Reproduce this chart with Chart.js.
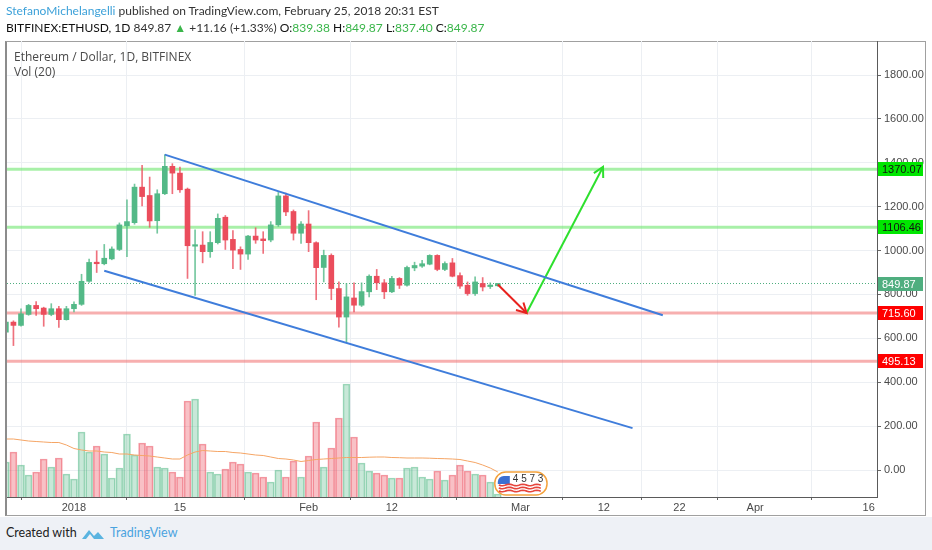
<!DOCTYPE html>
<html>
<head>
<meta charset="utf-8">
<script src="https://cdn.jsdelivr.net/npm/chart.js@4.4.1/dist/chart.umd.min.js"></script>
<style>
  html, body { margin: 0; padding: 0; background: #fff; }
  body { width: 932px; height: 550px; position: relative; overflow: hidden; font-family: "Open Sans", Arial, sans-serif; }
  .head { position: absolute; left: 6px; font-family: Lato, "Open Sans", sans-serif; font-size: 12px; color: #333; white-space: nowrap; }
  #head1 { top: 3px; }
  #head2 { top: 20px; }
  #head1 .user { color: #3ca1d9; }
  #head2 .k { color: #111; }
  #head2 .g { color: #3ab54a; }
  #frame { position: absolute; left: 5px; top: 41px; width: 921px; height: 475px; box-sizing: border-box;
           border: 1px solid #a0a0a0; border-left: 2px solid #8c8c8c; }
  #footer { position: absolute; left: 0; top: 517px; width: 932px; height: 33px; background: #eef1f6; }
  #footer .txt { position: absolute; top: 8px; font-family: Lato, "Open Sans", sans-serif; font-size: 12.5px; }
  #title { position: absolute; left: 14px; top: 49px; font-size: 12px; color: #4a4a4a; line-height: 15px; }
  canvas { position: absolute; left: 0; top: 0; }
</style>
</head>
<body>
<div id="footer">
  <span class="txt" style="left:6px;color:#222">Created with</span>
  <svg style="position:absolute;left:81px;top:10px" width="24" height="14" viewBox="0 0 24 14">
    <path d="M1 12 L8 3 L13 9 L17 5 L23 12 Z" fill="#5ab4e0"/>
    <path d="M5 12 L9 7 L13 12 Z" fill="#eef1f6"/>
  </svg>
  <span class="txt" style="left:110px;color:#4aa3df">TradingView</span>
</div>
<div id="frame"></div>
<canvas id="chart" width="932" height="550"></canvas>
<div class="head" id="head1"><span class="user">StefanoMichelangelli</span> published on TradingView.com, February 25, 2018 20:31 EST</div>
<div class="head" id="head2"><span class="k">BITFINEX:ETHUSD, 1D</span> 849.87 <span class="g">&#9650;</span> +11.16 (+1.33%) <span class="k">O:</span><span class="g">839.38</span> <span class="k">H:</span><span class="g">849.87</span> <span class="k">L:</span><span class="g">837.40</span> <span class="k">C:</span><span class="g">849.87</span></div>
<div id="title">Ethereum / Dollar, 1D, BITFINEX<br>Vol (20)</div>
<script>
// daily candles, BITFINEX ETHUSD
const dates = [
  '2017-12-23','2017-12-24','2017-12-25','2017-12-26','2017-12-27','2017-12-28','2017-12-29','2017-12-30','2017-12-31','2018-01-01',
  '2018-01-02','2018-01-03','2018-01-04','2018-01-05','2018-01-06','2018-01-07','2018-01-08','2018-01-09','2018-01-10','2018-01-11',
  '2018-01-12','2018-01-13','2018-01-14','2018-01-15','2018-01-16','2018-01-17','2018-01-18','2018-01-19','2018-01-20','2018-01-21',
  '2018-01-22','2018-01-23','2018-01-24','2018-01-25','2018-01-26','2018-01-27','2018-01-28','2018-01-29','2018-01-30','2018-01-31',
  '2018-02-01','2018-02-02','2018-02-03','2018-02-04','2018-02-05','2018-02-06','2018-02-07','2018-02-08','2018-02-09','2018-02-10',
  '2018-02-11','2018-02-12','2018-02-13','2018-02-14','2018-02-15','2018-02-16','2018-02-17','2018-02-18','2018-02-19','2018-02-20',
  '2018-02-21','2018-02-22','2018-02-23','2018-02-24','2018-02-25','2018-02-26'
];
const opens = [
  628, 674, 659, 709, 750, 738, 709, 735, 685, 735,
  755, 860, 947, 940, 962, 1005, 1113, 1127, 1289, 1251,
  1136, 1259, 1384, 1353, 1280, 1020, 1025, 995, 1036, 1152,
  1051, 1005, 984, 1066, 1053, 1048, 1117, 1249, 1178, 1079,
  1121, 1036, 923, 978, 827, 697, 784, 751, 812, 883,
  853, 812, 873, 842, 921, 929, 938, 978, 914, 944,
  886, 842, 804, 850, 836, 839.38
];
const highs = [
  680, 680, 735, 755, 768, 742, 758, 746, 746, 766,
  892, 961, 999, 1028, 1017, 1126, 1231, 1303, 1388, 1335,
  1277, 1437, 1396, 1381, 1285, 1094, 1086, 1086, 1167, 1160,
  1091, 1017, 1070, 1104, 1086, 1132, 1265, 1262, 1185, 1132,
  1182, 1040, 1002, 985, 857, 850, 853, 853, 890, 914,
  868, 883, 877, 929, 947, 956, 981, 981, 949, 964,
  898, 857, 880, 877, 853, 849.87
];
const lows = [
  620, 567, 655, 705, 705, 655, 703, 650, 683, 720,
  750, 855, 900, 935, 958, 1000, 972, 1120, 1204, 1106,
  1079, 1255, 1259, 1265, 873, 796, 944, 969, 1030, 1005,
  918, 914, 960, 1033, 987, 1040, 1110, 1159, 1048, 1033,
  995, 776, 857, 776, 651, 583, 720, 745, 789, 822,
  781, 808, 827, 838, 908, 923, 935, 908, 908, 880,
  827, 796, 796, 816, 827, 837.40
];
const closes = [
  674, 659, 712, 750, 735, 709, 735, 685, 735, 755,
  860, 946, 940, 965, 1007, 1117, 1132, 1289, 1246, 1135,
  1259, 1384, 1353, 1277, 1022, 1026, 995, 1037, 1147, 1048,
  1002, 984, 1066, 1048, 1045, 1117, 1249, 1176, 1079, 1121,
  1036, 922, 978, 827, 697, 789, 751, 813, 883, 853,
  812, 873, 842, 923, 932, 940, 978, 914, 941, 883,
  838, 804, 857, 834, 841, 849.87
];
// volume (thousands) and its 20-day average line
const volumes = [
  35, 45, 32, 22, 25, 38, 30, 39, 23, 18,
  65, 45, 51, 43, 19, 29, 63, 42, 54, 51,
  30, 29, 25, 20, 96, 98, 53, 25, 23, 28,
  35, 33, 25, 24, 20, 15, 27, 20, 36, 20,
  41, 75, 30, 49, 79, 113, 60, 34, 26, 24,
  22, 19, 19, 29, 30, 20, 18, 26, 17, 22,
  32, 26, 23, 22, 15, 3
];
const volumeMA = [
  58, 58, 57, 56, 55.5, 55, 54.5, 54.5, 52, 48.5,
  47, 46, 46, 45, 44.5, 43, 43, 42, 41.5, 41,
  40, 39, 38, 38, 42, 45, 46.5, 46, 45.5, 45.5,
  44.5, 44, 43, 42, 41.5, 40, 38.5, 38, 37, 35.5,
  36.5, 37.5, 38, 38.5, 39, 39.5, 39.5, 39.5, 39.8, 40,
  40, 39.5, 39.3, 39, 39, 39, 38.8, 38.5, 38.3, 38,
  37.5, 36, 34.5, 32, 29, 25
];

const tickDates = ['2018-01-01','2018-01-15','2018-02-01','2018-02-12','2018-03-01','2018-03-12','2018-03-22','2018-04-01','2018-04-16'];
const tickLabels = ['2018','15','Feb','12','Mar','12','22','Apr','16'];
const priceTicks = [0, 200, 400, 600, 800, 1000, 1200, 1400, 1600, 1800];

// drawings (x in days from 2018-01-01)
const resistance = [1370.07, 1106.46];
const support = [715.60, 495.13];
const lastPrice = 849.87;
const upperChannel = [[12, 1437], [77.8, 705]];
const lowerChannel = [[4, 908], [73.8, 191]];
const redArrow = [[56, 845], [59.8, 715.6]];
const greenArrow = [[59.8, 715.6], [69.9, 1381]];

const viewStart = -8.85, viewEnd = 106.1;
const priceMin = -123, priceMax = 1955;

const UP = '#53b987', DOWN = '#eb4d5c';
const dayOf = s => (Date.parse(s) - Date.parse('2018-01-01')) / 86400000;
const xs = dates.map(dayOf);
const isUp = closes.map((c, i) => c >= opens[i]);
const candleColors = isUp.map(u => u ? UP : DOWN);

const hLine = (p, color, width, dash) => ({
  type: 'line', data: [{ x: viewStart, y: p }, { x: viewEnd, y: p }],
  borderColor: color, borderWidth: width, borderDash: dash || [], pointRadius: 0, yAxisID: 'y', order: 8
});
const segLine = (pts, color, width) => ({
  type: 'line', data: pts.map(p => ({ x: p[0], y: p[1] })),
  borderColor: color, borderWidth: width, pointRadius: 0, yAxisID: 'y', order: 1
});

const arrowHeads = {
  id: 'arrowHeads',
  afterDatasetsDraw(chart) {
    const { ctx, scales } = chart;
    [[redArrow, '#e8221e'], [greenArrow, '#2ee02e']].forEach(([pts, color]) => {
      const x0 = scales.x.getPixelForValue(pts[0][0]), y0 = scales.y.getPixelForValue(pts[0][1]);
      const x1 = scales.x.getPixelForValue(pts[1][0]), y1 = scales.y.getPixelForValue(pts[1][1]);
      const a = Math.atan2(y1 - y0, x1 - x0);
      ctx.save();
      ctx.strokeStyle = color; ctx.lineWidth = 2;
      ctx.beginPath();
      ctx.moveTo(x1 - 11 * Math.cos(a - 0.5), y1 - 11 * Math.sin(a - 0.5));
      ctx.lineTo(x1, y1);
      ctx.lineTo(x1 - 11 * Math.cos(a + 0.5), y1 - 11 * Math.sin(a + 0.5));
      ctx.stroke();
      ctx.restore();
    });
  }
};

const priceTags = {
  id: 'priceTags',
  afterDraw(chart) {
    const { ctx, scales: { x, y }, chartArea } = chart;
    const tags = [
      [resistance[0], '#00e600', '#111'],
      [resistance[1], '#00e600', '#111'],
      [lastPrice, '#4fae7f', '#fff'],
      [support[0], '#ff0000', '#fff'],
      [support[1], '#ff0000', '#fff']
    ];
    ctx.save();
    ctx.font = '11px "Liberation Sans", Arial, sans-serif';
    ctx.textBaseline = 'middle';
    tags.forEach(([v, bg, fg]) => {
      const py = Math.round(y.getPixelForValue(v));
      ctx.fillStyle = bg;
      ctx.fillRect(chartArea.right + 1, py - 7, 45, 14);
      ctx.fillStyle = fg;
      ctx.fillText(v.toFixed(2), chartArea.right + 5, py + 0.5);
    });
    // small sticker sitting on the last volume bars
    const bx = x.getPixelForValue(55.6), ex = x.getPixelForValue(62.5);
    const by = chartArea.bottom - 25, bh = 23;
    ctx.fillStyle = 'rgba(255,255,255,0.9)';
    ctx.strokeStyle = '#f4a23c'; ctx.lineWidth = 1.5;
    ctx.beginPath();
    ctx.roundRect(bx, by, ex - bx, bh, 11);
    ctx.fill(); ctx.stroke();
    ctx.fillStyle = '#3b6fd1';
    ctx.beginPath(); ctx.arc(bx + 9, by + 10, 6, Math.PI, 1.5 * Math.PI); ctx.lineTo(bx + 15, by + 4); ctx.lineTo(bx + 15, by + 12); ctx.lineTo(bx + 3, by + 12); ctx.fill();
    ctx.strokeStyle = '#e6453c'; ctx.lineWidth = 1.6;
    for (let k = 0; k < 3; k++) {
      ctx.beginPath();
      for (let s = 0; s <= ex - bx - 10; s += 2) {
        const yy = by + 13 + k * 3 + Math.sin(s / 2.2) * 0.8;
        if (s === 0) ctx.moveTo(bx + 4 + s, yy); else ctx.lineTo(bx + 4 + s, yy);
      }
      ctx.stroke();
    }
    ctx.fillStyle = '#333';
    ctx.font = '10px "Liberation Sans", Arial, sans-serif';
    ctx.fillText('4 5 7 3', bx + 18, by + 7);
    ctx.restore();
  }
};

new Chart(document.getElementById('chart'), {
  type: 'bar',
  data: {
    datasets: [
      {
        type: 'bar', yAxisID: 'yv', order: 10, grouped: false,
        data: xs.map((x, i) => ({ x, y: volumes[i] })),
        backgroundColor: isUp.map(u => u ? 'rgba(83,185,135,0.32)' : 'rgba(235,77,92,0.35)'),
        borderColor: isUp.map(u => u ? 'rgba(83,185,135,0.55)' : 'rgba(235,77,92,0.55)'),
        borderWidth: 1, barThickness: 7
      },
      {
        type: 'line', yAxisID: 'yv', order: 9,
        data: xs.map((x, i) => ({ x, y: volumeMA[i] })),
        borderColor: '#f5a565', borderWidth: 1, pointRadius: 0
      },
      hLine(resistance[0], 'rgba(110,230,110,0.6)', 3),
      hLine(resistance[1], 'rgba(110,230,110,0.6)', 3),
      hLine(support[0], 'rgba(240,110,110,0.55)', 3),
      hLine(support[1], 'rgba(240,110,110,0.55)', 3),
      hLine(lastPrice, '#4fae7f', 1, [1, 2]),
      {
        type: 'bar', yAxisID: 'y', order: 5, grouped: false,
        data: xs.map((x, i) => ({ x, y: [lows[i], highs[i]] })),
        backgroundColor: isUp.map(u => u ? 'rgba(83,185,135,0.8)' : 'rgba(235,77,92,0.8)'), barThickness: 1
      },
      {
        type: 'bar', yAxisID: 'y', order: 4, grouped: false,
        data: xs.map((x, i) => ({ x, y: [opens[i], closes[i]] })),
        backgroundColor: candleColors, barThickness: 5, minBarLength: 1.5
      },
      segLine(upperChannel, '#3f7ddb', 2),
      segLine(lowerChannel, '#3f7ddb', 2),
      segLine(redArrow, '#e8221e', 2),
      segLine(greenArrow, '#2ee02e', 2)
    ]
  },
  options: {
    responsive: false,
    animation: false,
    layout: { padding: { left: 7, top: 41, right: 6, bottom: 33 } },
    plugins: { legend: { display: false }, tooltip: { enabled: false } },
    scales: {
      x: {
        type: 'linear', min: viewStart, max: viewEnd, offset: false,
        afterBuildTicks: axis => { axis.ticks = tickDates.map(d => ({ value: dayOf(d) })); },
        afterFit: axis => { axis.height = 20; },
        ticks: {
          autoSkip: false, maxRotation: 0, padding: 1, color: '#4a4a4a',
          font: { family: '"Liberation Sans", Arial, sans-serif', size: 11 },
          callback: (v, i) => tickLabels[i]
        },
        grid: { color: '#eceff3', tickLength: 3, tickColor: '#666' },
        border: { color: '#5a5a5a' }
      },
      y: {
        type: 'linear', position: 'right', min: priceMin, max: priceMax,
        afterBuildTicks: axis => { axis.ticks = priceTicks.map(v => ({ value: v })); },
        afterFit: axis => { axis.width = 49; },
        ticks: {
          padding: 3, color: '#4a4a4a',
          font: { family: '"Liberation Sans", Arial, sans-serif', size: 11 },
          callback: v => v.toFixed(2)
        },
        grid: { color: '#eceff3', tickLength: 4, tickColor: '#666' },
        border: { color: '#5a5a5a' }
      },
      yv: { type: 'linear', display: false, min: 0, max: 456 }
    }
  },
  plugins: [arrowHeads, priceTags]
});
</script>
</body>
</html>
